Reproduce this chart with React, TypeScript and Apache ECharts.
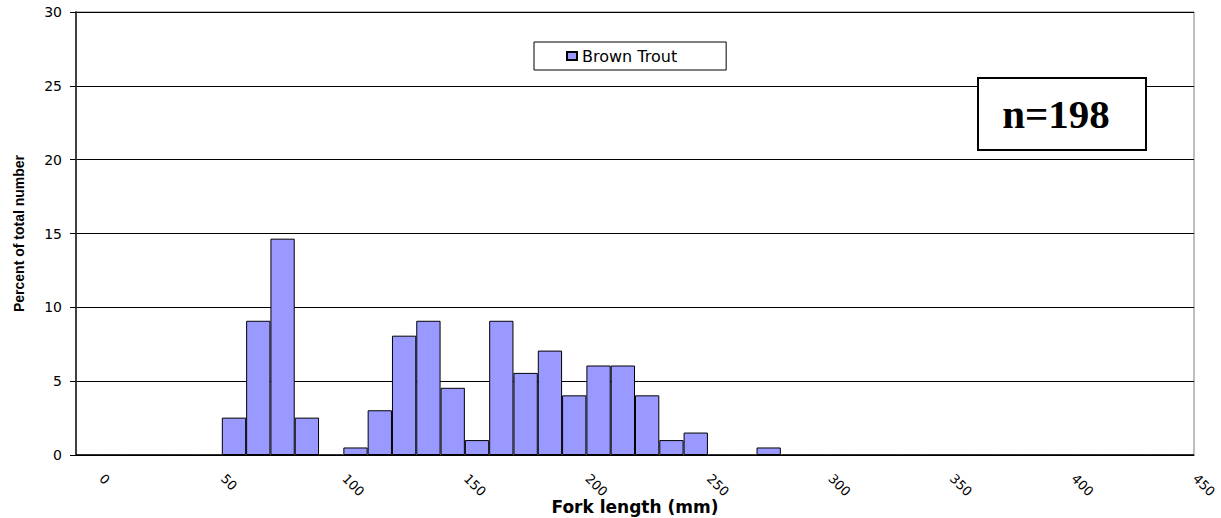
import React, { useEffect, useRef } from "react";
import * as echarts from "echarts";

const binStarts = [
  "0", "10", "20", "30", "40", "50", "60", "70", "80", "90",
  "100", "110", "120", "130", "140", "150", "160", "170", "180", "190",
  "200", "210", "220", "230", "240", "250", "260", "270", "280", "290",
  "300", "310", "320", "330", "340", "350", "360", "370", "380", "390",
  "400", "410", "420", "430", "440", "450",
];

const brownTroutPercent = [
  0, 0, 0, 0, 0, 0, 2.53, 9.09, 14.65, 2.53,
  0, 0.51, 3.03, 8.08, 9.09, 4.55, 1.01, 9.09, 5.56, 7.07,
  4.04, 6.06, 6.06, 4.04, 1.01, 1.52, 0, 0, 0.51, 0,
  0, 0, 0, 0, 0, 0, 0, 0, 0, 0,
  0, 0, 0, 0, 0, 0,
];

const yTicks = { min: 0, max: 30, interval: 5 };
const seriesName = "Brown Trout";
const sampleLabel = "n=198";
const xTitle = "Fork length (mm)";
const yTitle = "Percent of total number";

export default function App() {
  const ref = useRef<HTMLDivElement>(null);
  useEffect(() => {
    if (!ref.current) return;
    const chart = echarts.init(ref.current, null, { renderer: "svg" });
    chart.setOption({
      animation: false,
      backgroundColor: "#ffffff",
      textStyle: { fontFamily: "DejaVu Sans" },
      grid: {
        left: 76,
        right: 27,
        top: 12,
        bottom: 63,
        outerBoundsMode: "none",
        containLabel: false,
        show: true,
        borderColor: "#808080",
        borderWidth: 1,
        backgroundColor: "transparent",
      },
      legend: {
        left: 534,
        top: 42,
        orient: "horizontal",
        backgroundColor: "#ffffff",
        borderColor: "#000000",
        borderWidth: 1,
        borderRadius: 0,
        padding: [6, 49, 6, 32],
        itemWidth: 10,
        itemHeight: 8,
        icon: "rect",
        textStyle: { fontFamily: "DejaVu Sans", fontSize: 16, color: "#000" },
        data: [seriesName],
      },
      xAxis: {
        type: "category",
        data: binStarts,
        boundaryGap: true,
        name: xTitle,
        nameLocation: "middle",
        nameGap: 43,
        nameMoveOverlap: false,
        nameTextStyle: {
          fontFamily: "DejaVu Sans",
          fontWeight: "bold",
          fontSize: 17,
          color: "#000",
        },
        axisLine: { show: true, lineStyle: { color: "#000", width: 1 } },
        axisTick: { show: false },
        axisLabel: {
          interval: 4,
          rotate: -45,
          margin: 8,
          padding: [0, 0, 0, 19],
          fontFamily: "DejaVu Sans",
          fontSize: 13,
          color: "#000",
        },
        splitLine: { show: false },
      },
      yAxis: {
        type: "value",
        min: yTicks.min,
        max: yTicks.max,
        interval: yTicks.interval,
        name: yTitle,
        nameLocation: "middle",
        nameRotate: 90,
        nameGap: 50,
        nameMoveOverlap: false,
        nameTextStyle: {
          fontFamily: "Liberation Sans",
          fontWeight: "bold",
          fontSize: 14,
          color: "#000",
        },
        axisLine: { show: true, lineStyle: { color: "#404040", width: 2 } },
        axisTick: { show: true, inside: false, length: 6, lineStyle: { color: "#000" } },
        axisLabel: {
          margin: 14,
          fontFamily: "DejaVu Sans",
          fontSize: 14,
          color: "#000",
        },
        splitLine: { show: true, lineStyle: { color: "#000", width: 1 } },
      },
      series: [
        {
          name: seriesName,
          type: "bar",
          data: brownTroutPercent,
          barCategoryGap: "0%",
          itemStyle: { color: "#9999FF", borderColor: "#000", borderWidth: 1 },
        },
      ],
      graphic: [
        {
          type: "group",
          children: [
            {
              type: "rect",
              shape: { x: 978, y: 78, width: 168, height: 72 },
              style: { fill: "#ffffff", stroke: "#000", lineWidth: 2 },
              z: 100,
            },
            {
              type: "text",
              x: 1056,
              y: 114,
              z: 101,
              style: {
                text: sampleLabel,
                font: "bold 41px 'Liberation Serif'",
                fill: "#000",
                textAlign: "center",
                textVerticalAlign: "middle",
              },
            },
          ],
        },
      ],
    });
    return () => chart.dispose();
  }, []);
  return (
    <div
      ref={ref}
      style={{ position: "absolute", left: 0, top: 0, width: 1221, height: 518 }}
    />
  );
}
